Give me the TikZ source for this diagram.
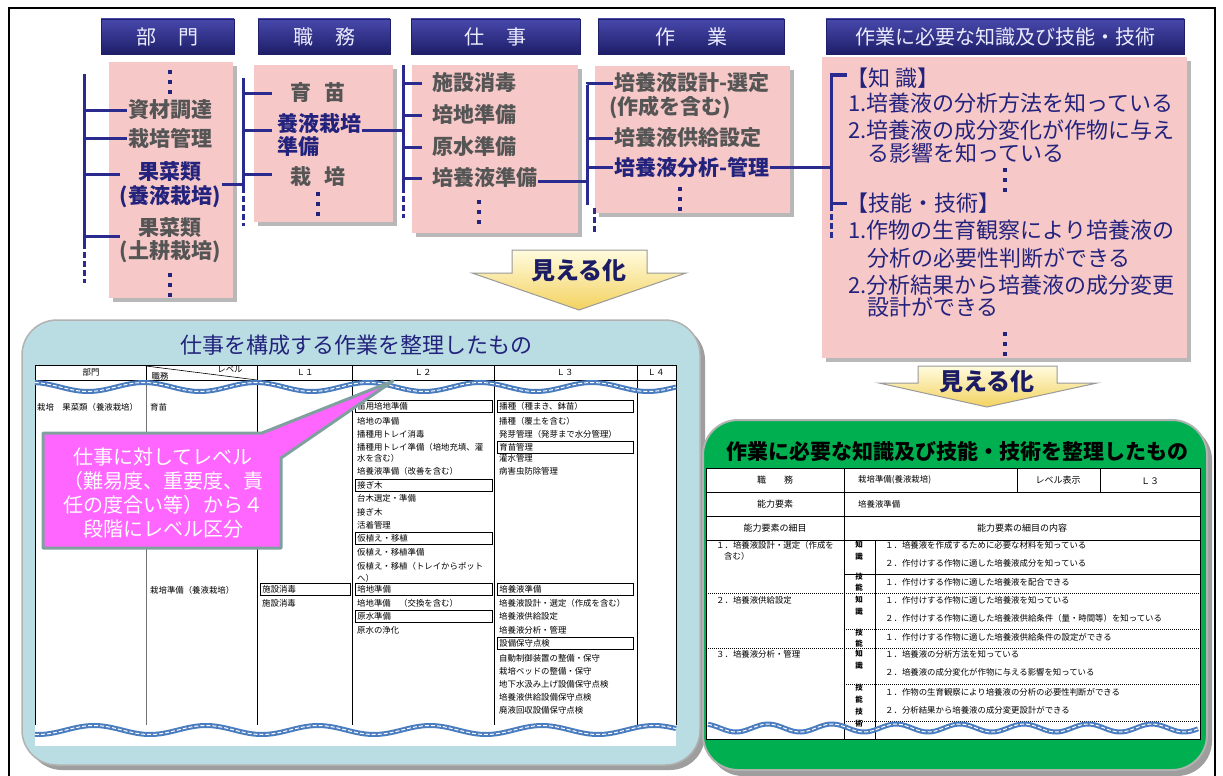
\documentclass[tikz,border=0pt]{standalone}
\usepackage{fontspec}
\setmainfont{Noto Sans CJK JP}
\usetikzlibrary{calc}
\definecolor{navyline}{RGB}{43,43,143}
\definecolor{hdrtop}{RGB}{72,72,172}
\definecolor{hdrbot}{RGB}{30,30,105}
\definecolor{pinkfill}{RGB}{246,200,200}
\definecolor{graytext}{RGB}{85,85,85}
\definecolor{navytext}{RGB}{35,35,125}
\definecolor{panelblue}{RGB}{185,221,227}
\definecolor{panelgreen}{RGB}{0,176,80}
\definecolor{callpink}{RGB}{255,102,255}
\definecolor{callborder}{RGB}{128,160,160}
\definecolor{wavecol}{RGB}{74,124,192}
\definecolor{arrowgold}{RGB}{243,210,95}
\definecolor{arrowlight}{RGB}{255,251,222}
\tikzset{
  hdr/.style={top color=hdrtop, bottom color=hdrbot, draw=hdrbot, text=white!92!blue,
    font=\fontsize{20}{22}\selectfont, minimum height=35pt, inner sep=0pt},
  gt/.style={text=graytext, font=\fontsize{21}{24}\selectfont\bfseries, inner sep=1pt},
  nt/.style={text=navytext, font=\fontsize{21}{24}\selectfont\bfseries, inner sep=1pt},
  kt/.style={text=navytext, font=\fontsize{22}{24}\selectfont, inner sep=0pt, anchor=west},
  br/.style={draw=navyline, line width=3pt},
  brd/.style={draw=navyline, line width=3pt, dash pattern=on 6pt off 3pt},
  dotsv/.style={draw=navytext, line width=4pt, dash pattern=on 4pt off 6pt},
  pinkbg/.style={fill=pinkfill},
  shadowbg/.style={fill=black!28},
  mieru/.style={top color=arrowlight, bottom color=arrowgold, draw=black!40, line width=1pt},
  mierutext/.style={text=navytext!80!black, font=\fontsize{24}{26}\selectfont\bfseries},
  tc/.style={font=\fontsize{8.4}{9}\selectfont, inner sep=0pt, anchor=west},
  tbox/.style={draw, line width=0.8pt, font=\fontsize{8.4}{9}\selectfont, anchor=west,
    minimum height=12pt, inner ysep=0pt, inner xsep=2pt, align=left},
  th/.style={font=\fontsize{8.4}{9}\selectfont, inner sep=0pt},
  rc/.style={font=\fontsize{8.4}{9}\selectfont, inner sep=0pt, anchor=west},
  rh/.style={font=\fontsize{9}{10}\selectfont, inner sep=0pt},
  rk/.style={font=\fontsize{7.5}{8}\selectfont\bfseries, inner sep=0pt},
  wavethick/.style={draw=wavecol, line width=5pt},
  wavethin/.style={draw=white, line width=1pt, dash pattern=on 4pt off 2pt},
  dotline/.style={line width=0.8pt, dash pattern=on 1pt off 1pt},
}
\begin{document}
\begin{tikzpicture}[x=1pt,y=-1pt]
\useasboundingbox (0,0) rectangle (1223,776);
\fill[white] (0,0) rectangle (1223,776);
% outer frame
\draw[line width=1.5pt] (9,8) rectangle (1215,780);

% header boxes
\node[hdr, minimum width=133pt] (h1) at (167.5,36.5) {部\hspace{22pt}門};
\node[hdr, minimum width=132pt] (h2) at (324,36.5) {職\hspace{22pt}務};
\node[hdr, minimum width=169pt] (h3) at (495.5,36.5) {仕\hspace{22pt}事};
\node[hdr, minimum width=186pt] (h4) at (691,36.5) {作\hspace{32pt}業};
\node[hdr, minimum width=358pt] (h5) at (1005,36.5) {作業に必要な知識及び技能・技術};

% pink boxes
\fill[shadowbg] (113,66) rectangle (237,302);
\fill[pinkbg] (109,62) rectangle (233,298);
\fill[shadowbg] (258,69) rectangle (397,226);
\fill[pinkbg] (254,65) rectangle (393,222);
\fill[shadowbg] (416,69) rectangle (582,237);
\fill[pinkbg] (412,65) rectangle (578,233);
\fill[shadowbg] (599,70) rectangle (794,217);
\fill[pinkbg] (595,66) rectangle (790,213);
\fill[shadowbg] (826,61) rectangle (1191,362);
\fill[pinkbg] (822,57) rectangle (1187,358);

% ---- box 1: 部門
\node[gt] (d1) at (170,110) {資材調達};
\node[gt] (d2) at (170,138) {栽培管理};
\node[nt] (d3a) at (170,172) {果菜類};
\node[nt] (d3b) at (170,197) {(養液栽培)};
\node[gt] (d4a) at (170,228) {果菜類};
\node[gt] (d4b) at (170,252) {(土耕栽培)};
\draw[dotsv] (170,70) -- (170,95);
\draw[dotsv] (170,273) -- (170,298);
\coordinate (b1t) at (84,74);
\coordinate (b1b) at (84,243);
\coordinate (b1e) at (84,283);
\draw[br] (b1t) -- (b1b);
\draw[brd] (b1b) -- (b1e);
\draw[br] (d1.west -| b1t) -- (d1.west);
\draw[br] (d2.west -| b1t) -- (d2.west);
\draw[br] ([yshift=-2pt]d3a.west -| b1t) -- ++(36,0);
\draw[br] ([yshift=-8pt]d4a.west -| b1t) -- ++(36,0);

% ---- box 2: 職務
\coordinate (b2t) at (243,78);
\coordinate (b2b) at (243,187);
\coordinate (b2e) at (243,226);
\draw[br] (b2t) -- (b2b);
\draw[brd] (b2b) -- (b2e);
\draw[br] (d3b.north east) -- (d3b.north east -| b2t);
\node[gt] (s1) at (318,93) {育\hspace{14pt}苗};
\node[nt, anchor=west] (s2a) at (276,123) {養液栽培};
\node[nt, anchor=west] (s2b) at (276,147) {準備};
\node[gt] (s3) at (318,177) {栽\hspace{14pt}培};
\draw[dotsv] (318,192) -- (318,217);
\draw[br] (s1.west -| b2t) -- ++(29,0);
\draw[br] ([yshift=-7pt]s2a.west -| b2t) -- ++(29,0);
\draw[br] ([yshift=3pt]s3.west -| b2t) -- ++(29,0);

% ---- box 3: 仕事
\coordinate (b3t) at (403,65);
\coordinate (b3b) at (403,187);
\coordinate (b3e) at (403,218);
\draw[br] (b3t) -- (b3b);
\draw[brd] (b3b) -- (b3e);
\draw[br] ([yshift=-7pt]s2a.east) -- ([yshift=-7pt]s2a.east -| b3t);
\node[gt, anchor=west] (w1) at (431,83) {施設消毒};
\node[gt, anchor=west] (w2) at (431,115) {培地準備};
\node[gt, anchor=west] (w3) at (431,147) {原水準備};
\node[gt, anchor=west] (w4) at (431,178) {培養液準備};
\draw[dotsv] (479,200) -- (479,225);
\draw[br] (w1.west -| b3t) -- ++(19,0);
\draw[br] (w2.west -| b3t) -- ++(19,0);
\draw[br] (w3.west -| b3t) -- ++(19,0);
\draw[br] (w4.west -| b3t) -- ++(19,0);

% ---- box 4: 作業
\coordinate (b4t) at (587,85);
\coordinate (b4b) at (587,205);
\coordinate (b4e) at (594,208);
\coordinate (b4f) at (594,234);
\draw[br] (w4.east |- 0,181) -- (587,181);
\draw[br] (b4t) -- (b4b);
\draw[brd] (b4e) -- (b4f);
\node[gt, anchor=west] (a1) at (613,83) {培養液設計-選定};
\node[gt, anchor=west] (a1b) at (608,107) {(作成を含む)};
\node[gt, anchor=west] (a2) at (613,138) {培養液供給設定};
\node[nt, anchor=west] (a3) at (613,167) {培養液分析-管理};
\draw[dotsv] (680,187) -- (680,212);
\draw[br] ([yshift=1.5pt]b4t) -- (b4t |- a1.west) -- (a1.west);
\draw[br] (a2.west -| b4t) -- (a2.west);
\draw[br] (a3.west -| b4t) -- (a3.west);

% ---- box 5: knowledge
\coordinate (b5t) at (831,75);
\coordinate (b5b) at (831,203);
\coordinate (b5e) at (831,239);
\draw[br] (a3.east) -- (a3.east -| b5t);
\draw[br] (847,75) -- (b5t) -- (b5b) -- (847,203);
\draw[brd] ([yshift=-2pt]b5b) -- (b5e);
\node[kt] (k0) at (846,78) {【知 識】};
\node[kt] (k1) at (848,103) {1.培養液の分析方法を知っている};
\node[kt] (k2) at (848,130) {2.培養液の成分変化が作物に与え};
\node[kt] (k3) at (867,153) {る影響を知っている};
\draw[dotsv] (1005,168) -- (1005,193);
\node[kt] (k4) at (846,203) {【技能・技術】};
\node[kt] (k5) at (848,230) {1.作物の生育観察により培養液の};
\node[kt] (k6) at (867,258) {分析の必要性判断ができる};
\node[kt] (k7) at (848,285) {2.分析結果から培養液の成分変更};
\node[kt] (k8) at (867,307) {設計ができる};
\draw[dotsv] (1005,332) -- (1005,357);

% ---- arrows 見える化
\path[mieru] (512,250) -- (647,250) -- (647,273) -- (686,273) -- (579,310) -- (472,273) -- (512,273) -- cycle;
\node[mierutext] (m1) at (579,271) {見える化};
\path[mieru] (918,366) -- (1057,366) -- (1057,383) -- (1097,383) -- (987,407) -- (879,383) -- (918,383) -- cycle;
\node[mierutext] (m2) at (987,382) {見える化};

% ================= left panel =================
\fill[black!38, rounded corners=35pt] (27,325) rectangle (705,770);
\filldraw[fill=panelblue, draw=black!30, line width=1.5pt, rounded corners=35pt] (22,320) rectangle (700,765);
\node[font=\fontsize{22}{24}\selectfont, text=navytext] (lt) at (356,345) {仕事を構成する作業を整理したもの};
\fill[white] (35,365) rectangle (676,746);
\draw[line width=0.8pt] (35,725) -- (35,365) -- (676,365) -- (676,725);
\draw[line width=0.8pt] (35,380) -- (676,380);
\draw[line width=1pt, black!55] (146,380) -- (146,725);
\draw[line width=0.8pt] (146,365) -- (146,380);
\foreach \cx in {257,352,494,637} \draw[line width=0.8pt] (\cx,365) -- (\cx,725);
\draw[line width=0.6pt] (146,366) -- (257,380);
\node[th] (lh1) at (91,372) {部門};
\node[th] (lh2a) at (230,369) {レベル};
\node[th] (lh2b) at (160,376) {職務};
\node[th] (lh3) at (305,372) {Ｌ１};
\node[th] (lh4) at (423,372) {Ｌ２};
\node[th] (lh5) at (565,372) {Ｌ３};
\node[th] (lh6) at (656,372) {Ｌ４};
% waves
\draw[wavethick] plot[domain=35:676, samples=160, smooth] (\x,{387+4.5*sin((\x-60)*3.214)});
\draw[wavethin] plot[domain=35:676, samples=160, smooth] (\x,{387+4.5*sin((\x-60)*3.214)});
% body col 1-2
\node[tc] (c1) at (37,407) {栽培　果菜類（養液栽培）};
\node[tc] (c2) at (150,407) {育苗};
\node[tc] (c3) at (150,590) {栽培準備（養液栽培）};
% L1
\node[tbox, minimum width=90pt, text width=86pt] (l1a) at (260,589) {施設消毒};
\node[tc] (l1b) at (262,603) {施設消毒};
% L2
\node[tbox, minimum width=137pt, text width=133pt] (l2a) at (355,406) {苗用培地準備};
\node[tc] (l2b) at (357,421) {培地の準備};
\node[tc] (l2c) at (357,434) {播種用トレイ消毒};
\node[tc] (l2d) at (357,447) {播種用トレイ準備（培地充填、灌};
\node[tc] (l2e) at (357,458) {水を含む）};
\node[tc] (l2f) at (357,471) {培養液準備（改善を含む）};
\node[tbox, minimum width=137pt, text width=133pt] (l2g) at (355,485) {接ぎ木};
\node[tc] (l2h) at (357,498) {台木選定・準備};
\node[tc] (l2i) at (357,512) {接ぎ木};
\node[tc] (l2j) at (357,525) {活着管理};
\node[tbox, minimum width=137pt, text width=133pt] (l2k) at (355,538) {仮植え・移植};
\node[tc] (l2l) at (357,552) {仮植え・移植準備};
\node[tc] (l2m) at (357,566) {仮植え・移植（トレイからポット};
\node[tc] (l2n) at (357,578) {へ）};
\node[tbox, minimum width=137pt, text width=133pt] (l2o) at (355,589) {培地準備};
\node[tc] (l2p) at (357,603) {培地準備　（交換を含む）};
\node[tbox, minimum width=137pt, text width=133pt] (l2q) at (355,616) {原水準備};
\node[tc] (l2r) at (357,630) {原水の浄化};
% L3
\node[tbox, minimum width=136pt, text width=132pt] (l3a) at (497,406) {播種（種まき、鉢苗）};
\node[tc] (l3b) at (499,421) {播種（覆土を含む）};
\node[tc] (l3c) at (499,434) {発芽管理（発芽まで水分管理）};
\node[tbox, minimum width=136pt, text width=132pt] (l3d) at (497,447) {育苗管理};
\node[tc] (l3e) at (499,458) {灌水管理};
\node[tc] (l3f) at (499,471) {病害虫防除管理};
\node[tbox, minimum width=136pt, text width=132pt] (l3g) at (497,589) {培養液準備};
\node[tc] (l3h) at (499,603) {培養液設計・選定（作成を含む）};
\node[tc] (l3i) at (499,616) {培養液供給設定};
\node[tc] (l3j) at (499,630) {培養液分析・管理};
\node[tbox, minimum width=136pt, text width=132pt] (l3k) at (497,643) {設備保守点検};
\node[tc] (l3l) at (499,658) {自動制御装置の整備・保守};
\node[tc] (l3m) at (499,671) {栽培ベッドの整備・保守};
\node[tc] (l3n) at (499,684) {地下水汲み上げ設備保守点検};
\node[tc] (l3o) at (499,697) {培養液供給設備保守点検};
\node[tc] (l3p) at (499,710) {廃液回収設備保守点検};
\draw[wavethick] plot[domain=35:676, samples=160, smooth] (\x,{730+4.5*sin((\x-10)*3.214)});
\draw[wavethin] plot[domain=35:676, samples=160, smooth] (\x,{730+4.5*sin((\x-10)*3.214)});
% callout
\filldraw[fill=callpink, draw=callborder, line width=3pt, line join=round]
  (43,433) -- (262,433) -- (393,381) -- (281,458) -- (281,548) -- (43,548) -- cycle;
\node[font=\fontsize{20}{24}\selectfont, text=white, align=center] (co) at (163,493)
  {仕事に対してレベル\\（難易度、重要度、責\\任の度合い等）から４\\段階にレベル区分};

% ================= right panel =================
\fill[black!38, rounded corners=35pt] (708,425) rectangle (1212,776);
\filldraw[fill=panelgreen, draw=black!30, line width=2pt, rounded corners=35pt] (703,420) rectangle (1207,770);
\node[font=\fontsize{21}{24}\selectfont\bfseries] (rt) at (957,451) {作業に必要な知識及び技能・技術を整理したもの};
\fill[white] (706,468) rectangle (1200,739);
\draw[line width=1pt] (706,468) rectangle (1200,739);
\draw[line width=0.8pt] (706,492) -- (1200,492);
\draw[line width=0.8pt] (706,516) -- (1200,516);
\draw[line width=0.8pt] (706,540) -- (1200,540);
\draw[line width=0.8pt] (844,468) -- (844,739);
\draw[line width=0.8pt] (1017,468) -- (1017,492);
\draw[line width=0.8pt] (1100,468) -- (1100,492);
\draw[line width=0.8pt] (875,540) -- (875,739);
\draw[line width=0.8pt] (844,574) -- (1200,574);
\draw[dotline] (706,593) -- (1200,593);
\draw[dotline] (844,629) -- (1200,629);
\draw[dotline] (706,648) -- (1200,648);
\draw[dotline] (844,684) -- (1200,684);
\draw[dotline] (844,721) -- (1200,721);
\node[rh] (r11) at (775,480) {職　　務};
\node[rc] (r12) at (858,480) {栽培準備(養液栽培)};
\node[rh] (r13) at (1058,480) {レベル表示};
\node[rh] (r14) at (1150,481) {Ｌ３};
\node[rh] (r21) at (775,504) {能力要素};
\node[rc] (r22) at (858,504) {培養液準備};
\node[rh] (r31) at (775,528) {能力要素の細目};
\node[rh] (r32) at (1022,528) {能力要素の細目の内容};
% item 1
\node[rc] (i1a) at (716,545) {１．培養液設計・選定（作成を};
\node[rc] (i1b) at (724,556) {含む）};
\node[rk] (i1k1) at (859,545) {知};
\node[rk] (i1k2) at (859,557) {識};
\node[rk] (i1g1) at (859,577) {技};
\node[rk] (i1g2) at (859,588) {能};
\node[rc] (i1c) at (885,545) {１．培養液を作成するために必要な材料を知っている};
\node[rc] (i1d) at (885,563) {２．作付けする作物に適した培養液成分を知っている};
\node[rc] (i1e) at (885,582) {１．作付けする作物に適した培養液を配合できる};
% item 2
\node[rc] (i2a) at (716,600) {２．培養液供給設定};
\node[rk] (i2k1) at (859,600) {知};
\node[rk] (i2k2) at (859,612) {識};
\node[rk] (i2g1) at (859,633) {技};
\node[rk] (i2g2) at (859,644) {能};
\node[rc] (i2c) at (885,600) {１．作付けする作物に適した培養液を知っている};
\node[rc] (i2d) at (885,618) {２．作付けする作物に適した培養液供給条件（量・時間等）を知っている};
\node[rc] (i2e) at (885,637) {１．作付けする作物に適した培養液供給条件の設定ができる};
% item 3
\node[rc] (i3a) at (716,654) {３．培養液分析・管理};
\node[rk] (i3k1) at (859,654) {知};
\node[rk] (i3k2) at (859,666) {識};
\node[rk] (i3g1) at (859,688) {技};
\node[rk] (i3g2) at (859,700) {能};
\node[rk] (i3g3) at (859,712) {技};
\node[rk] (i3g4) at (859,724) {術};
\node[rc] (i3c) at (885,654) {１．培養液の分析方法を知っている};
\node[rc] (i3d) at (885,672) {２．培養液の成分変化が作物に与える影響を知っている};
\node[rc] (i3e) at (885,692) {１．作物の生育観察により培養液の分析の必要性判断ができる};
\node[rc] (i3f) at (885,710) {２．分析結果から培養液の成分変更設計ができる};
\draw[wavethick] plot[domain=708:1198, samples=160, smooth] (\x,{728+4*sin((\x-720)*5.625)});
\draw[wavethin] plot[domain=708:1198, samples=160, smooth] (\x,{728+4*sin((\x-720)*5.625)});
\end{tikzpicture}
\end{document}
